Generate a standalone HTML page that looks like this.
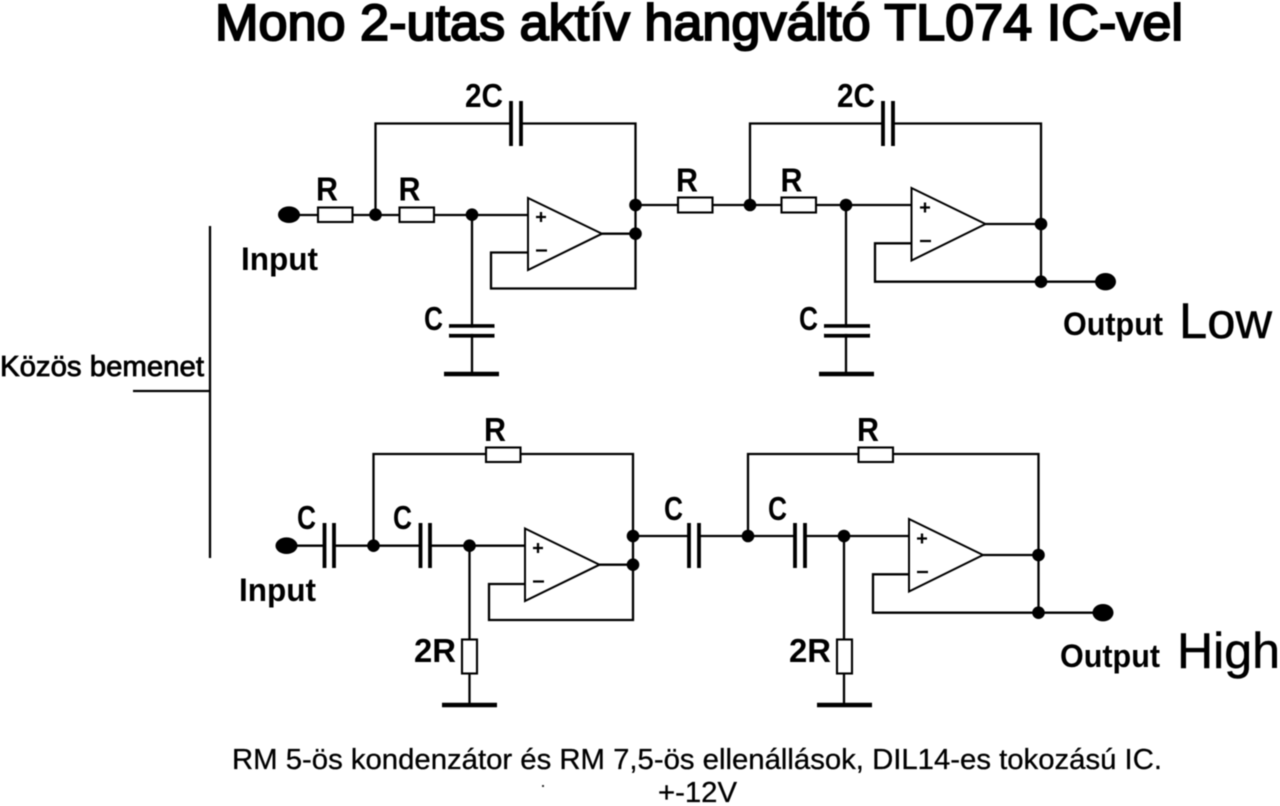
<!DOCTYPE html>
<html><head><meta charset="utf-8"><title>Mono 2-utas aktív hangváltó TL074 IC-vel</title>
<style>
html,body{margin:0;padding:0;background:#fff;width:1280px;height:806px;overflow:hidden}
svg{display:block;filter:blur(.5px)}
text{font-family:"Liberation Sans",sans-serif;fill:#000}
.w{fill:none;stroke:#000;stroke-width:2.3}
.p{fill:none;stroke:#000;stroke-width:3.8}
.g{fill:none;stroke:#000;stroke-width:4.6}
.r{fill:#fff;stroke:#000;stroke-width:2.1}
.o{fill:#fff;stroke:#000;stroke-width:2}
.l{font-weight:700;font-size:33px}
.t{font-size:32px;font-weight:700}
</style></head><body>
<svg width="1280" height="806" viewBox="0 0 1280 806" xmlns="http://www.w3.org/2000/svg">
<rect width="1280" height="806" fill="#fff"/>
<text x="215" y="40" font-size="51" textLength="968" lengthAdjust="spacingAndGlyphs" stroke="#000" stroke-width="2">Mono 2-utas aktív hangváltó TL074 IC-vel</text>

<!-- bracket -->
<path class="w" d="M210 226V558M133 391H210"/>
<text x="0" y="376" font-size="29" textLength="204" lengthAdjust="spacingAndGlyphs" stroke="#000" stroke-width=".8">Közös bemenet</text>

<!-- LOW stage 1 -->
<path class="w" d="M289 215H528M375.500 215V123.500H635.500V288.500H491V252.500H528M602 233.700H635.500M635.500 205H750M472 215V374"/>
<rect class="r" x="318" y="207.500" width="34.500" height="14.500"/>
<rect class="r" x="399.500" y="207.500" width="34.500" height="14.500"/>
<rect x="512" y="100" width="9" height="48" fill="#fff"/>
<path class="p" d="M511 101V146M521 101V146"/>
<path class="p" d="M449 326H494.500M449 335.700H494.500"/>
<rect x="450" y="327.800" width="44" height="6" fill="#fff"/>
<path class="g" d="M444 374H499"/>
<path class="o" d="M528 198L602 233.700L528 270Z"/>
<path class="w" d="M536 217H546M541 212V222M536 250.500H547"/>
<ellipse cx="289" cy="214.700" rx="11" ry="8.300"/>
<circle cx="375.500" cy="214.700" r="6.300"/><circle cx="472" cy="214.700" r="6.300"/><circle cx="635.500" cy="205" r="6.300"/><circle cx="635.500" cy="233.700" r="6.300"/>

<!-- LOW stage 2 -->
<path class="w" d="M750 205H911.500M750 205V123.500H1041V281.700H875V243.300H911.500M985.500 224H1041M1041 281.700H1105M846 205V374"/>
<rect class="r" x="678" y="197.500" width="34.500" height="15"/>
<rect class="r" x="781.500" y="197.500" width="34.500" height="15"/>
<rect x="884" y="100" width="8" height="48" fill="#fff"/>
<path class="p" d="M883 101V146M893 101V146"/>
<path class="p" d="M824 326H870M824 335.700H870"/>
<rect x="825" y="327.800" width="44" height="6" fill="#fff"/>
<path class="g" d="M819 374H874"/>
<path class="o" d="M911.500 188L985.500 224L911.500 260.500Z"/>
<path class="w" d="M920 207.500H930M925 202.500V212.500M920 241H931"/>
<circle cx="750" cy="205" r="6.300"/><circle cx="846" cy="205" r="6.300"/><circle cx="1041" cy="224" r="6.300"/><circle cx="1041" cy="281.700" r="6.300"/>
<ellipse cx="1105.500" cy="281.700" rx="10.500" ry="8.700"/>

<!-- HIGH stage 1 -->
<path class="w" d="M287 545.700H525M373.500 545.700V454H633V620H489V584H525M599.500 564.700H633M633 536H748M469.500 545.700V705"/>
<rect x="325" y="522" width="8" height="47" fill="#fff"/><rect x="421" y="522" width="8" height="47" fill="#fff"/>
<path class="p" d="M324.500 523V568M334 523V568M420.500 523V568M430 523V568"/>
<rect class="r" x="486" y="447.500" width="34.500" height="14.500"/>
<rect class="r" x="462" y="639.500" width="15" height="34"/>
<path class="g" d="M442 705H497"/>
<path class="o" d="M525 528.500L599.500 564.700L525 601Z"/>
<path class="w" d="M533 548H543M538 543V553M533 581.500H544"/>
<ellipse cx="286.500" cy="545.700" rx="11" ry="8.300"/>
<circle cx="373.500" cy="545.700" r="6.300"/><circle cx="469.500" cy="545.700" r="6.300"/><circle cx="633" cy="536" r="6.300"/><circle cx="633" cy="564.700" r="6.300"/>

<!-- HIGH stage 2 -->
<path class="w" d="M748 536H909M748 536V454H1038.500V612.700H873V574.300H909M983 555H1038.500M1038.500 612.700H1103M844 536V705"/>
<rect x="690" y="522" width="8" height="47" fill="#fff"/><rect x="796" y="522" width="8" height="47" fill="#fff"/>
<path class="p" d="M689 523V568M699 523V568M795 523V568M805 523V568"/>
<rect class="r" x="858.500" y="447.500" width="34.500" height="14.500"/>
<rect class="r" x="837" y="639.500" width="15" height="34"/>
<path class="g" d="M817 705H872"/>
<path class="o" d="M909 519L983 555L909 591.500Z"/>
<path class="w" d="M917 538.500H927M922 533.500V543.500M917 572H928"/>
<circle cx="748" cy="536" r="6.300"/><circle cx="844" cy="536" r="6.300"/><circle cx="1038.500" cy="555" r="6.300"/><circle cx="1038.500" cy="612.700" r="6.300"/>
<ellipse cx="1103" cy="612.700" rx="10.500" ry="8.700"/>

<!-- labels LOW -->
<text class="l" x="465" y="107" textLength="38" lengthAdjust="spacingAndGlyphs">2C</text>
<text class="l" x="316" y="200.500" textLength="22" lengthAdjust="spacingAndGlyphs">R</text>
<text class="l" x="398.500" y="200.500" textLength="22" lengthAdjust="spacingAndGlyphs">R</text>
<text class="l" x="424" y="330" textLength="19" lengthAdjust="spacingAndGlyphs">C</text>
<text class="t" x="241" y="270" textLength="77" lengthAdjust="spacingAndGlyphs">Input</text>
<text class="l" x="837" y="107" textLength="38" lengthAdjust="spacingAndGlyphs">2C</text>
<text class="l" x="676" y="191.500" textLength="22" lengthAdjust="spacingAndGlyphs">R</text>
<text class="l" x="780.500" y="191.500" textLength="22" lengthAdjust="spacingAndGlyphs">R</text>
<text class="l" x="799" y="330" textLength="19" lengthAdjust="spacingAndGlyphs">C</text>
<text class="t" x="1063" y="335" textLength="100" lengthAdjust="spacingAndGlyphs">Output</text>
<text x="1179" y="338" font-size="50" textLength="93" lengthAdjust="spacingAndGlyphs" stroke="#000" stroke-width=".5">Low</text>

<!-- labels HIGH -->
<text class="l" x="297" y="529" textLength="19" lengthAdjust="spacingAndGlyphs">C</text>
<text class="l" x="393" y="529" textLength="19" lengthAdjust="spacingAndGlyphs">C</text>
<text class="l" x="484" y="441" textLength="22" lengthAdjust="spacingAndGlyphs">R</text>
<text class="t" x="239" y="601" textLength="77" lengthAdjust="spacingAndGlyphs">Input</text>
<text class="l" x="414" y="662" textLength="42" lengthAdjust="spacingAndGlyphs">2R</text>
<text class="l" x="664" y="520" textLength="19" lengthAdjust="spacingAndGlyphs">C</text>
<text class="l" x="768" y="520" textLength="19" lengthAdjust="spacingAndGlyphs">C</text>
<text class="l" x="857" y="441" textLength="22" lengthAdjust="spacingAndGlyphs">R</text>
<text class="l" x="789" y="662" textLength="42" lengthAdjust="spacingAndGlyphs">2R</text>
<text class="t" x="1060" y="667" textLength="100" lengthAdjust="spacingAndGlyphs">Output</text>
<text x="1177" y="668" font-size="50" textLength="103" lengthAdjust="spacingAndGlyphs" stroke="#000" stroke-width=".5">High</text>

<!-- footer -->
<text x="232" y="769" font-size="29" textLength="930" lengthAdjust="spacingAndGlyphs" stroke="#000" stroke-width=".3">RM 5-ös kondenzátor és RM 7,5-ös ellenállások, DIL14-es tokozású IC.</text>
<text x="658" y="802" font-size="29" textLength="79" lengthAdjust="spacingAndGlyphs" stroke="#000" stroke-width=".3">+-12V</text>
<rect x="542" y="785" width="2" height="2" fill="#333"/>
</svg>
</body></html>
